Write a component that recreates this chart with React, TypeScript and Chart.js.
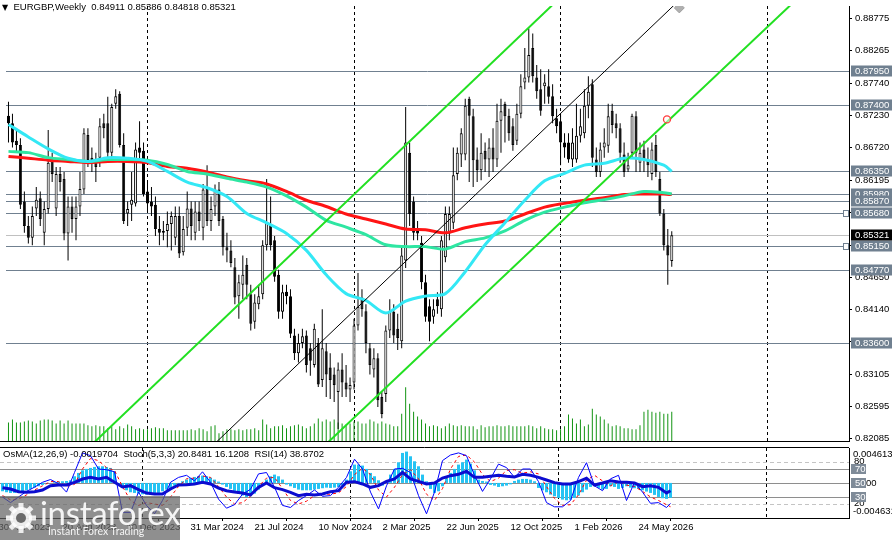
import React, { useEffect, useRef } from "react";
import { Chart, registerables } from "chart.js";

Chart.register(...registerables);

const FONT = '"Liberation Sans", Arial, sans-serif';

// ---------- header texts ----------
const HEADER_SYMBOL = "EURGBP,Weekly";
const HEADER_OHLC = ["0.84911", "0.85386", "0.84818", "0.85321"];
const OSC_HEADER = "OsMA(12,26,9) -0.0019704  Stoch(5,3,3) 20.8481 16.1208  RSI(14) 38.8702";

// ---------- time axis ----------
const FIRST_BAR_DATE = "2023-05-07";
const X_TICK_DATES = [
  "2023-04-30", "2023-08-20", "2023-12-10", "2024-03-31", "2024-07-21", "2024-11-10",
  "2025-03-02", "2025-06-22", "2025-10-12", "2026-02-01", "2026-05-24",
];
const MONTHS = ["Jan", "Feb", "Mar", "Apr", "May", "Jun", "Jul", "Aug", "Sep", "Oct", "Nov", "Dec"];

// ---------- weekly candles ----------
const OPEN = [
  0.8723, 0.8711, 0.8683, 0.8676, 0.8586, 0.8547, 0.8528, 0.8575, 0.8591, 0.8536,
  0.8574, 0.8653, 0.8575, 0.8630, 0.8622, 0.8535, 0.8578, 0.8558, 0.8578, 0.8605,
  0.8692, 0.8656, 0.8652, 0.8656, 0.8711, 0.8711, 0.8664, 0.8742, 0.8758, 0.8676,
  0.8567, 0.8581, 0.8583, 0.8672, 0.8667, 0.8602, 0.8586, 0.8581, 0.8542, 0.8536,
  0.8539, 0.8550, 0.8528, 0.8563, 0.8505, 0.8544, 0.8575, 0.8536, 0.8570, 0.8544,
  0.8606, 0.8555, 0.8578, 0.8605, 0.8558, 0.8513, 0.8508, 0.8481, 0.8435, 0.8453,
  0.8485, 0.8438, 0.8394, 0.8422, 0.8438, 0.8516, 0.8550, 0.8524, 0.8469, 0.8410,
  0.8442, 0.8435, 0.8372, 0.8344, 0.8360, 0.8372, 0.8352, 0.8325, 0.8360, 0.8301,
  0.8347, 0.8321, 0.8310, 0.8282, 0.8318, 0.8297, 0.8286, 0.8297, 0.8388, 0.8433,
  0.8411, 0.8352, 0.8318, 0.8336, 0.8274, 0.8279, 0.8380, 0.8410, 0.8383, 0.8363,
  0.8492, 0.8664, 0.8586, 0.8539, 0.8520, 0.8457, 0.8419, 0.8402, 0.8430, 0.8414,
  0.8497, 0.8535, 0.8552, 0.8630, 0.8661, 0.8661, 0.8750, 0.8722, 0.8653, 0.8636,
  0.8667, 0.8653, 0.8672, 0.8653, 0.8715, 0.8742, 0.8723, 0.8706, 0.8683, 0.8726,
  0.8776, 0.8784, 0.8831, 0.8784, 0.8765, 0.8770, 0.8770, 0.8754, 0.8719, 0.8714,
  0.8680, 0.8680, 0.8653, 0.8653, 0.8691, 0.8695, 0.8739, 0.8773, 0.8653, 0.8633,
  0.8672, 0.8675, 0.8731, 0.8711, 0.8703, 0.8661, 0.8637, 0.8664, 0.8722, 0.8648,
  0.8669, 0.8653, 0.8630, 0.8676, 0.8622, 0.8567, 0.8516, 0.84911,
];
const HIGH = [
  0.8745, 0.8726, 0.8703, 0.8687, 0.8602, 0.8563, 0.8578, 0.8609, 0.8602, 0.8586,
  0.8700, 0.8664, 0.8641, 0.8641, 0.8633, 0.8594, 0.8594, 0.8594, 0.8633, 0.8703,
  0.8703, 0.8672, 0.8664, 0.8719, 0.8726, 0.8753, 0.8742, 0.8765, 0.8762, 0.8695,
  0.8586, 0.8633, 0.8680, 0.8714, 0.8680, 0.8617, 0.8609, 0.8594, 0.8563, 0.8555,
  0.8570, 0.8570, 0.8578, 0.8578, 0.8563, 0.8602, 0.8586, 0.8586, 0.8586, 0.8614,
  0.8644, 0.8594, 0.8613, 0.8617, 0.8563, 0.8536, 0.8524, 0.8496, 0.8469, 0.8500,
  0.8496, 0.8453, 0.8438, 0.8453, 0.8524, 0.8622, 0.8594, 0.8531, 0.8477, 0.8453,
  0.8453, 0.8446, 0.8383, 0.8375, 0.8383, 0.8380, 0.8360, 0.8391, 0.8368, 0.8414,
  0.8360, 0.8344, 0.8321, 0.8329, 0.8344, 0.8325, 0.8305, 0.8399, 0.8472, 0.8446,
  0.8422, 0.8360, 0.8352, 0.8344, 0.8282, 0.8388, 0.8430, 0.8422, 0.8407, 0.8516,
  0.8737, 0.8680, 0.8594, 0.8555, 0.8531, 0.8469, 0.8430, 0.8430, 0.8441, 0.8531,
  0.8578, 0.8578, 0.8672, 0.8672, 0.8703, 0.8750, 0.8753, 0.8734, 0.8672, 0.8695,
  0.8680, 0.8687, 0.8703, 0.8742, 0.8750, 0.8745, 0.8734, 0.8719, 0.8742, 0.8789,
  0.8831, 0.8862, 0.8854, 0.8804, 0.8797, 0.8789, 0.8797, 0.8773, 0.8734, 0.8726,
  0.8695, 0.8695, 0.8703, 0.8742, 0.8734, 0.8765, 0.8786, 0.8781, 0.8672, 0.8680,
  0.8703, 0.8742, 0.8742, 0.8726, 0.8711, 0.8680, 0.8664, 0.8726, 0.8730, 0.8680,
  0.8683, 0.8672, 0.8680, 0.8692, 0.8633, 0.8574, 0.8542, 0.85386,
];
const LOW = [
  0.8680, 0.8672, 0.8664, 0.8574, 0.8536, 0.8519, 0.8516, 0.8563, 0.8547, 0.8516,
  0.8567, 0.8617, 0.8563, 0.8602, 0.8524, 0.8492, 0.8536, 0.8524, 0.8563, 0.8598,
  0.8641, 0.8633, 0.8617, 0.8641, 0.8687, 0.8648, 0.8656, 0.8734, 0.8672, 0.8550,
  0.8547, 0.8555, 0.8578, 0.8648, 0.8594, 0.8570, 0.8563, 0.8531, 0.8516, 0.8524,
  0.8513, 0.8508, 0.8516, 0.8496, 0.8500, 0.8531, 0.8524, 0.8524, 0.8539, 0.8524,
  0.8547, 0.8539, 0.8563, 0.8547, 0.8500, 0.8489, 0.8481, 0.8422, 0.8399, 0.8430,
  0.8430, 0.8380, 0.8383, 0.8414, 0.8430, 0.8508, 0.8508, 0.8458, 0.8399, 0.8399,
  0.8422, 0.8368, 0.8333, 0.8329, 0.8352, 0.8313, 0.8308, 0.8321, 0.8290, 0.8290,
  0.8274, 0.8271, 0.8266, 0.8223, 0.8274, 0.8274, 0.8266, 0.8286, 0.8380, 0.8402,
  0.8344, 0.8310, 0.8305, 0.8258, 0.8240, 0.8266, 0.8368, 0.8360, 0.8349, 0.8352,
  0.8480, 0.8547, 0.8524, 0.8524, 0.8446, 0.8394, 0.8363, 0.8391, 0.8407, 0.8402,
  0.8489, 0.8524, 0.8542, 0.8620, 0.8641, 0.8652, 0.8617, 0.8609, 0.8617, 0.8620,
  0.8633, 0.8625, 0.8633, 0.8641, 0.8664, 0.8680, 0.8683, 0.8667, 0.8676, 0.8719,
  0.8765, 0.8776, 0.8776, 0.8750, 0.8723, 0.8742, 0.8742, 0.8711, 0.8695, 0.8644,
  0.8656, 0.8648, 0.8641, 0.8648, 0.8680, 0.8687, 0.8719, 0.8641, 0.8625, 0.8625,
  0.8656, 0.8664, 0.8695, 0.8687, 0.8648, 0.8625, 0.8633, 0.8656, 0.8633, 0.8633,
  0.8633, 0.8625, 0.8620, 0.8625, 0.8563, 0.8508, 0.8453, 0.84818,
];
const CLOSE = [
  0.8711, 0.8680, 0.8676, 0.8581, 0.8547, 0.8528, 0.8563, 0.8589, 0.8558, 0.8574,
  0.8648, 0.8630, 0.8630, 0.8617, 0.8535, 0.8578, 0.8558, 0.8578, 0.8606, 0.8695,
  0.8652, 0.8648, 0.8641, 0.8706, 0.8703, 0.8664, 0.8737, 0.8754, 0.8676, 0.8555,
  0.8574, 0.8589, 0.8669, 0.8664, 0.8598, 0.8583, 0.8578, 0.8542, 0.8536, 0.8539,
  0.8550, 0.8563, 0.8563, 0.8503, 0.8542, 0.8575, 0.8547, 0.8570, 0.8555, 0.8605,
  0.8555, 0.8574, 0.8605, 0.8555, 0.8513, 0.8508, 0.8488, 0.8433, 0.8457, 0.8469,
  0.8453, 0.8391, 0.8425, 0.8435, 0.8516, 0.8552, 0.8516, 0.8466, 0.8410, 0.8441,
  0.8435, 0.8375, 0.8344, 0.8360, 0.8371, 0.8325, 0.8332, 0.8383, 0.8294, 0.8352,
  0.8310, 0.8301, 0.8293, 0.8318, 0.8297, 0.8286, 0.8293, 0.8388, 0.8418, 0.8414,
  0.8360, 0.8325, 0.8336, 0.8269, 0.8247, 0.8380, 0.8410, 0.8372, 0.8368, 0.8500,
  0.8680, 0.8566, 0.8536, 0.8535, 0.8457, 0.8402, 0.8394, 0.8414, 0.8419, 0.8524,
  0.8566, 0.8566, 0.8628, 0.8664, 0.8695, 0.8739, 0.8723, 0.8652, 0.8636, 0.8664,
  0.8653, 0.8672, 0.8653, 0.8715, 0.8730, 0.8722, 0.8695, 0.8676, 0.8726, 0.8770,
  0.8784, 0.8820, 0.8786, 0.8762, 0.8731, 0.8776, 0.8753, 0.8722, 0.8706, 0.8680,
  0.8672, 0.8653, 0.8680, 0.8691, 0.8706, 0.8739, 0.8761, 0.8656, 0.8633, 0.8669,
  0.8680, 0.8722, 0.8708, 0.8703, 0.8664, 0.8633, 0.8644, 0.8723, 0.8664, 0.8664,
  0.8653, 0.8644, 0.8669, 0.8633, 0.8567, 0.8516, 0.8500, 0.85321,
];
// tick volume
const VOLUME = [
  19000, 22000, 19000, 19000, 20000, 21000, 20000, 18000, 21000, 22000, 22000, 21000, 18000,
  21000, 18000, 21000, 18000, 18000, 18000, 18000, 16000, 15000,
  16000, 15000, 15000, 13000, 15000, 12000, 15000, 13000, 17000, 15000, 12000, 13000, 12000, 12000,
  13000, 14000, 13000, 13000, 11000, 11000, 11000, 11000, 11000, 11000, 12000, 11000, 13000, 12000, 10000, 15000,
  16000, 8000, 10000, 12000, 12000, 11000, 12000, 11000, 12000, 12000, 13000, 11000, 22000,
  17000, 13000, 15000, 15000, 16000, 13000, 15000, 16000, 17000, 15000, 13000, 15000, 18000,
  23000, 20000, 22000, 20000, 22000, 19000, 18000, 17000, 18000,
  20000, 20000, 18000, 18000, 22000, 20000, 18000, 20000, 18000, 17000, 15000, 15000, 28000,
  55000, 38000, 30000, 25000, 22000,
  18000, 15000, 16000, 15000, 13000, 15000, 18000, 16000, 15000, 16000, 15000, 15000, 15000, 12000, 16000, 14000,
  15000, 15000, 16000, 15000, 15000, 16000, 15000, 15000, 15000, 15000, 16000, 15000, 13000, 15000, 13000, 12000, 12000, 11000, 12000, 15000,
  27000, 23000, 18000, 22000, 15000, 17000, 33000, 27000, 25000, 22000, 18000, 15000, 16000, 15000, 13000,
  13000, 12000, 12000, 16000, 30000, 32000, 30000, 29000, 30000, 28000, 28000, 30000,
];

// ---------- moving averages (one reading every 5 bars, last = final bar) ----------
const MA_STEP = 5;
const MA_FAST = [
  0.8709, 0.8689, 0.8670, 0.8655, 0.8650, 0.8656, 0.8655, 0.8650, 0.8634, 0.8617, 0.8608, 0.8594,
  0.8567, 0.8552, 0.8535, 0.8508, 0.8469, 0.8439, 0.8428, 0.8408, 0.8427, 0.8435, 0.8439, 0.8474,
  0.8517, 0.8552, 0.8588, 0.8619, 0.8631, 0.8644, 0.8647, 0.8655, 0.8653, 0.8644, 0.8634,
];
const MA_MID = [
  0.8666, 0.8664, 0.8656, 0.8653, 0.8650, 0.8653, 0.8653, 0.8652, 0.8645, 0.8634, 0.8630, 0.8623,
  0.8617, 0.8609, 0.8595, 0.8577, 0.8556, 0.8545, 0.8533, 0.8517, 0.8514, 0.8514, 0.8510, 0.8522,
  0.8528, 0.8539, 0.8556, 0.8569, 0.8577, 0.8584, 0.8589, 0.8595, 0.8602, 0.8600, 0.8598,
];
const MA_SLOW = [
  0.8658, 0.8655, 0.8652, 0.8650, 0.8648, 0.8650, 0.8650, 0.8648, 0.8642, 0.8639, 0.8633, 0.8625,
  0.8619, 0.8614, 0.8602, 0.8588, 0.8578, 0.8566, 0.8558, 0.8550, 0.8542, 0.8541, 0.8536, 0.8544,
  0.8550, 0.8555, 0.8566, 0.8577, 0.8583, 0.8588, 0.8592, 0.8597, 0.8598, 0.8598, 0.8597,
];

// ---------- channel (bar index, price) anchors ----------
const CHANNEL_UPPER_IDX = [20, 140];
const CHANNEL_UPPER_PRICE = [0.8192, 0.8918];
const CHANNEL_LOWER_IDX = [78, 200];
const CHANNEL_LOWER_PRICE = [0.8187, 0.8918];
const CHANNEL_MID_IDX = [52, 170];
const CHANNEL_MID_PRICE = [0.8200, 0.8914];
const MARK_CIRCLE = { idx: 165.8, price: 0.8717 };
const MARK_DIAMOND = { idx: 168.9, price: 0.8895 };

// ---------- horizontal levels and price scale ----------
const LEVELS = [0.8795, 0.874, 0.8635, 0.8598, 0.8587, 0.8568, 0.8515, 0.8477, 0.836];
const LEVELS_WITH_HANDLE = [0.8568, 0.8515];
const CURRENT_PRICE = 0.85321;
const PRICE_TICKS = [
  0.88775, 0.88265, 0.8774, 0.8723, 0.8672, 0.86195, 0.8568, 0.8516, 0.8465, 0.8414, 0.83625,
  0.83105, 0.82595, 0.82085,
];
const PRICE_MIN = 0.82038;
const PRICE_MAX = 0.8898;

// ---------- oscillators ----------
const OSMA = [
  -0.0011, -0.00123, -0.00132, -0.00132, -0.00123, -0.0011, -0.00097, -0.00079, -0.00062, -0.00044, -0.00026,
  -0.00013, 0, 0.00009, 0.00018, 0.00022, 0.00026, 0.00035,
  0.00088, 0.00132, 0.00167, 0.00185, 0.00198, 0.00211, 0.0022, 0.0022, 0.00211, 0.00198, 0.00154,
  -0.00022, -0.00066, -0.00097, -0.00123, -0.00132, -0.00141, -0.0015, -0.00154, -0.00154, -0.00145, -0.00132, -0.0011, -0.00088,
  -0.00066, -0.00035, -0.00009,
  0.00022, 0.00044, 0.00062, 0.00079, 0.00088, 0.00097, 0.00088, 0.0007, 0.00044, 0.00018,
  -0.00022, -0.00053, -0.00079, -0.0011, -0.00141, -0.00167, -0.00185, -0.00176, -0.00141, -0.00088,
  -0.00022, 0.00044, 0.00088, 0.0011, 0.00088, 0.00044,
  -0.00022, -0.00044, -0.00066, -0.00088, -0.00097, -0.00097, -0.00097, -0.00088, -0.00079, -0.0007, -0.00062, -0.00066, -0.00062, -0.00053,
  -0.00035, 0.00044, 0.00154, 0.00242, 0.00242, 0.00229, 0.00185, 0.00132, 0.00088,
  0.00035, -0.00035, 0.00022,
  0.0011, 0.00185, 0.00273, 0.00396, 0.00414, 0.00352, 0.00286, 0.0022, 0.0011, 0.00022, -0.00079,
  -0.00132, -0.0011, -0.00044,
  0.00079, 0.00132, 0.00185, 0.00242, 0.00273, 0.00308, 0.00255, 0.00167, 0.00044, 0.00026,
  0.00018, -0.00026, -0.00035, -0.00053, -0.00044, -0.00035, -0.00018, 0.00026, 0.00044, 0.00053,
  0.00053, 0.00044, 0.00022,
  -0.00066, -0.00097, -0.00123, -0.00154, -0.00176, -0.00198, -0.0022, -0.00229, -0.0022, -0.00198, -0.00167, -0.00123,
  -0.00088, -0.00053, -0.00035, -0.00066, -0.00088, -0.00079, -0.00044, -0.00053, -0.00079, -0.00066,
  -0.00044, -0.00062, -0.0007, -0.00079, -0.00097, -0.00114, -0.00132, -0.00158, -0.00185, -0.00202, -0.00211, -0.0019704,
];
// one reading every 2 bars, last = final bar
const OSC_STEP = 2;
const STOCH_MAIN = [
  30, 22, 30, 38, 44, 51, 55, 49, 37, 65, 93, 89, 70, 69, 66, 8, 8, 37, 18, 6, 25, 51, 58, 61, 53, 66, 51,
  27, 14, 19, 34, 41, 63, 65, 44, 18, 15, 25, 32, 40, 31, 32, 44, 58, 84, 70, 37, 13, 46, 70, 71, 65, 32,
  6, 37, 82, 90, 93, 89, 61, 38, 56, 77, 72, 58, 70, 70, 52, 22, 16, 16, 25, 58, 79, 46, 39, 56, 61, 25,
  51, 37, 21, 22, 15, 20.8481,
];
const STOCH_SIGNAL = [
  32, 26, 27, 33, 40, 46, 52, 52, 45, 48, 70, 85, 82, 72, 68, 45, 25, 18, 22, 20, 18, 30, 45, 56, 57, 60,
  58, 45, 30, 20, 22, 31, 45, 57, 58, 42, 25, 20, 24, 32, 34, 34, 36, 45, 62, 71, 62, 40, 30, 44, 62, 69,
  56, 34, 25, 42, 70, 88, 90, 80, 62, 52, 57, 68, 69, 64, 66, 63, 45, 28, 18, 19, 33, 54, 61, 53, 46, 52,
  47, 45, 38, 30, 25, 19, 16.1208,
];
const RSI = [
  43.3, 41.4, 37.6, 36.7, 37.6, 40, 46.2, 47.1, 47.1, 51, 55.7, 58.1, 55.7, 58.1, 51, 44.3, 46.2, 40.5,
  35.7, 34.3, 34.3, 41.4, 47.1, 47.6, 48.6, 51, 48.6, 42.8, 39, 37.1, 35.7, 32.9, 43.8, 50, 43.3, 40.5,
  36.7, 31.9, 33.8, 32.9, 34.3, 37.6, 39, 51, 51.9, 48.6, 43.8, 46.2, 52.4, 55.7, 65.2, 55.7, 52.4, 48.6,
  50, 57.1, 60.5, 62.4, 66.7, 58.1, 58.1, 59.5, 61, 59.5, 58.6, 62.4, 61, 58.1, 54.3, 50.5, 48.6, 48.6,
  51.9, 56.7, 47.1, 50, 53.3, 51.4, 51, 50, 44.8, 46.2, 43.8, 35.7, 38.8702,
];
const OSMA_MAX = 0.004613;
const OSMA_MIN = -0.004631;
const OSC_DASHED_LEVELS = [80, 20];
const OSC_SOLID_LEVELS = [70, 50, 30];

// ---------- styling ----------
const X_MIN = -0.625;
const X_MAX = 211.625;
const LEVEL_COLOR = "#708090";
const AXIS_W = 43;
const LAST = CLOSE.length - 1;
const WEEK = 7 * 86400000;
const T0 = Date.parse(FIRST_BAR_DATE + "T00:00:00Z");
const barDate = (i: number) => new Date(T0 + i * WEEK);
const X_TICK_IDX = X_TICK_DATES.map((d) => Math.round((Date.parse(d + "T00:00:00Z") - T0) / WEEK));
const X_TICK_LABELS = X_TICK_DATES.map((d) => {
  const t = new Date(d + "T00:00:00Z");
  return `${t.getUTCDate()} ${MONTHS[t.getUTCMonth()]} ${t.getUTCFullYear()}`;
});
const YEAR_SEPS: number[] = [];
for (let i = 1; i <= Math.floor(X_MAX); i++) {
  if (barDate(i).getUTCFullYear() !== barDate(i - 1).getUTCFullYear()) YEAR_SEPS.push(i);
}

function hLine(ctx: any, x1: number, x2: number, y: number) {
  ctx.beginPath();
  ctx.moveTo(x1, y);
  ctx.lineTo(x2, y);
  ctx.stroke();
}
function vLine(ctx: any, x: number, y1: number, y2: number) {
  ctx.beginPath();
  ctx.moveTo(x, y1);
  ctx.lineTo(x, y2);
  ctx.stroke();
}
function box(ctx: any, x: number, y: number, w: number, h: number, bg: string, text: string, fg: string) {
  ctx.fillStyle = bg;
  ctx.fillRect(x, y - h / 2, w, h);
  ctx.fillStyle = fg;
  ctx.textAlign = "left";
  ctx.textBaseline = "middle";
  ctx.fillText(text, x + 4, y + 0.5);
}

const mainDecor = {
  id: "mainDecor",
  beforeDatasetsDraw(chart: any) {
    const { ctx, chartArea: a, scales } = chart;
    ctx.save();
    ctx.lineWidth = 1;
    ctx.strokeStyle = "#000";
    ctx.setLineDash([3, 3]);
    YEAR_SEPS.forEach((i) => {
      const x = Math.round(scales.x.getPixelForValue(i) - 0.5) + 0.5;
      vLine(ctx, x, a.top, a.bottom);
    });
    ctx.setLineDash([]);
    ctx.strokeStyle = LEVEL_COLOR;
    LEVELS.forEach((p) => hLine(ctx, a.left, a.right, Math.round(scales.y.getPixelForValue(p)) + 0.5));
    ctx.strokeStyle = "#c0c0c0";
    hLine(ctx, a.left, a.right, Math.round(scales.y.getPixelForValue(CURRENT_PRICE)) + 0.5);
    ctx.restore();
  },
  afterDraw(chart: any) {
    const { ctx, chartArea: a, scales } = chart;
    ctx.save();
    ctx.lineWidth = 1;
    ctx.strokeStyle = "#000";
    hLine(ctx, 0, a.right, a.bottom + 0.5);
    ctx.font = `9.5px ${FONT}`;
    [...LEVELS].sort((p, q) => q - p).forEach((p) => {
      box(ctx, a.right + 2, Math.round(scales.y.getPixelForValue(p)), 41, 11, LEVEL_COLOR, p.toFixed(5), "#ffffff");
    });
    box(ctx, a.right + 2, Math.round(scales.y.getPixelForValue(CURRENT_PRICE)), 41, 11, "#000000", CURRENT_PRICE.toFixed(5), "#ffffff");
    LEVELS_WITH_HANDLE.forEach((p) => {
      const y = Math.round(scales.y.getPixelForValue(p));
      ctx.fillStyle = "#ffffff";
      ctx.strokeStyle = LEVEL_COLOR;
      ctx.fillRect(a.right - 5, y - 2, 4, 5);
      ctx.strokeRect(a.right - 5.5, y - 2.5, 5, 6);
    });
    ctx.restore();
  },
};

const oscDecor = {
  id: "oscDecor",
  beforeDatasetsDraw(chart: any) {
    const { ctx, chartArea: a, scales } = chart;
    ctx.save();
    ctx.lineWidth = 1;
    ctx.strokeStyle = "#000";
    ctx.setLineDash([3, 3]);
    YEAR_SEPS.forEach((i) => {
      const x = Math.round(scales.x.getPixelForValue(i) - 0.5) + 0.5;
      vLine(ctx, x, a.top, a.bottom);
    });
    ctx.strokeStyle = "#c4c4c4";
    ctx.setLineDash([4, 3]);
    OSC_DASHED_LEVELS.forEach((v) => hLine(ctx, a.left, a.right, Math.round(scales.yOsc.getPixelForValue(v)) + 0.5));
    ctx.setLineDash([]);
    ctx.strokeStyle = "#8e8e8e";
    OSC_SOLID_LEVELS.forEach((v) => hLine(ctx, a.left, a.right, Math.round(scales.yOsc.getPixelForValue(v)) + 0.5));
    ctx.restore();
  },
  afterDraw(chart: any) {
    const { ctx, chartArea: a, scales } = chart;
    ctx.save();
    ctx.lineWidth = 1;
    ctx.strokeStyle = "#000";
    hLine(ctx, 0, a.right, a.top - 0.5);
    ctx.font = `9.5px ${FONT}`;
    ctx.textAlign = "left";
    ctx.textBaseline = "middle";
    ctx.fillStyle = "#000";
    ctx.fillText(OSMA_MAX.toFixed(6), a.right + 4, a.top + 6);
    ctx.fillText(OSMA_MIN.toFixed(6), a.right + 4, a.bottom - 6.5);
    OSC_DASHED_LEVELS.forEach((v) => {
      ctx.fillStyle = "#000";
      ctx.fillText(String(v), a.right + 5, Math.round(scales.yOsc.getPixelForValue(v)) - 1);
    });
    OSC_SOLID_LEVELS.forEach((v) => {
      const y = Math.round(scales.yOsc.getPixelForValue(v));
      box(ctx, a.right + 2, y, 15, 10, "#7f8b98", String(v), "#ffffff");
      if (v === 50) {
        ctx.fillStyle = "#000";
        ctx.fillText("00", a.right + 17, y + 0.5);
      }
    });
    ctx.restore();
  },
};

function mainConfig(): any {
  const bodyColors = CLOSE.map((c, i) => (c >= OPEN[i] ? "#ffffff" : "#000000"));
  const maData = (arr: number[]) => arr.map((v, k) => ({ x: Math.min(k * MA_STEP, LAST), y: v }));
  const seg = (xs: number[], ps: number[]) => xs.map((x, k) => ({ x, y: ps[k] }));
  return {
    type: "bar",
    data: {
      datasets: [
        {
          type: "scatter",
          data: [{ x: MARK_CIRCLE.idx, y: MARK_CIRCLE.price }],
          pointStyle: "circle",
          pointRadius: 3.5,
          borderColor: "#ff3b3b",
          backgroundColor: "rgba(255,255,255,0.5)",
          borderWidth: 1.3,
          order: 0,
        },
        {
          type: "scatter",
          data: [{ x: MARK_DIAMOND.idx, y: MARK_DIAMOND.price }],
          pointStyle: "rectRot",
          pointRadius: 5,
          backgroundColor: "#b0b0b0",
          borderColor: "#a0a0a0",
          order: 0,
        },
        { type: "line", data: seg(CHANNEL_UPPER_IDX, CHANNEL_UPPER_PRICE), borderColor: "#22e022", borderWidth: 2, pointRadius: 0, clip: 0, order: 1 },
        { type: "line", data: seg(CHANNEL_LOWER_IDX, CHANNEL_LOWER_PRICE), borderColor: "#22e022", borderWidth: 2, pointRadius: 0, clip: 0, order: 1 },
        { type: "line", data: seg(CHANNEL_MID_IDX, CHANNEL_MID_PRICE), borderColor: "#000000", borderWidth: 1, pointRadius: 0, clip: 0, order: 1 },
        { type: "line", data: maData(MA_FAST), borderColor: "#33e8f5", borderWidth: 3, pointRadius: 0, tension: 0.3, clip: 0, order: 2 },
        { type: "line", data: maData(MA_MID), borderColor: "#2ee6a2", borderWidth: 3, pointRadius: 0, tension: 0.3, clip: 0, order: 3 },
        { type: "line", data: maData(MA_SLOW), borderColor: "#ff1414", borderWidth: 3, pointRadius: 0, tension: 0.3, clip: 0, order: 4 },
        {
          type: "bar",
          data: CLOSE.map((c, i) => ({ x: i, y: [OPEN[i], c] })),
          backgroundColor: bodyColors,
          borderColor: "#000000",
          borderWidth: 1,
          borderSkipped: false,
          barThickness: 3,
          maxBarThickness: 3,
          grouped: false,
          inflateAmount: 0,
          order: 5,
        },
        {
          type: "bar",
          data: CLOSE.map((c, i) => ({ x: i, y: [LOW[i], HIGH[i]] })),
          backgroundColor: "#000000",
          barThickness: 1,
          maxBarThickness: 1,
          grouped: false,
          inflateAmount: 0,
          order: 6,
        },
        {
          type: "bar",
          yAxisID: "yVol",
          data: VOLUME.map((v, i) => ({ x: i, y: v })),
          backgroundColor: "#129412",
          barThickness: 1,
          maxBarThickness: 1,
          grouped: false,
          inflateAmount: 0,
          order: 7,
        },
      ],
    },
    options: {
      responsive: false,
      animation: false,
      events: [],
      layout: { padding: { top: 0, left: 0, right: 0, bottom: 2 } },
      plugins: { legend: { display: false }, tooltip: { enabled: false } },
      scales: {
        x: { type: "linear", min: X_MIN, max: X_MAX, offset: false, display: false },
        y: {
          position: "right",
          min: PRICE_MIN,
          max: PRICE_MAX,
          afterBuildTicks: (s: any) => {
            s.ticks = PRICE_TICKS.map((v) => ({ value: v }));
          },
          afterFit: (s: any) => {
            s.width = AXIS_W;
            s.paddingTop = 0;
            s.paddingBottom = 0;
          },
          ticks: {
            autoSkip: false,
            color: "#000",
            padding: 3,
            font: { family: FONT, size: 9.5 },
            callback: (v: any) => Number(v).toFixed(5),
          },
          grid: { drawOnChartArea: false, drawTicks: true, tickLength: 3, color: "#000" },
          border: { display: true, color: "#000", width: 1 },
        },
        yVol: { display: false, min: 0, max: 445000 },
      },
    },
    plugins: [mainDecor],
  };
}

function oscConfig(): any {
  const oscData = (arr: number[]) => arr.map((v, k) => ({ x: Math.min(k * OSC_STEP, LAST), y: v }));
  return {
    type: "bar",
    data: {
      datasets: [
        { type: "line", yAxisID: "yOsc", data: oscData(RSI), borderColor: "#0c0cd0", borderWidth: 3, pointRadius: 0, order: 0 },
        { type: "line", yAxisID: "yOsc", data: oscData(STOCH_MAIN), borderColor: "#0000ff", borderWidth: 1, pointRadius: 0, order: 1 },
        {
          type: "line",
          yAxisID: "yOsc",
          data: oscData(STOCH_SIGNAL),
          borderColor: "#ff0000",
          borderWidth: 1,
          borderDash: [3, 3],
          pointRadius: 0,
          order: 2,
        },
        {
          type: "bar",
          yAxisID: "yOsma",
          data: OSMA.map((v, i) => ({ x: i, y: v })),
          backgroundColor: "#25c3f3",
          barThickness: 3,
          maxBarThickness: 3,
          grouped: false,
          inflateAmount: 0,
          order: 3,
        },
      ],
    },
    options: {
      responsive: false,
      animation: false,
      events: [],
      layout: { padding: { top: 2, left: 0, right: 0, bottom: 0 } },
      plugins: { legend: { display: false }, tooltip: { enabled: false } },
      scales: {
        x: {
          type: "linear",
          min: X_MIN,
          max: X_MAX,
          offset: false,
          position: "bottom",
          afterBuildTicks: (s: any) => {
            s.ticks = X_TICK_IDX.map((v) => ({ value: v }));
          },
          afterFit: (s: any) => {
            s.height = 22;
            s.paddingLeft = 0;
            s.paddingRight = 0;
          },
          ticks: {
            autoSkip: false,
            maxRotation: 0,
            minRotation: 0,
            align: "start",
            padding: 1,
            color: "#000",
            font: { family: FONT, size: 9.5 },
            callback: (_v: any, i: number) => X_TICK_LABELS[i],
          },
          grid: { drawOnChartArea: false, drawTicks: true, tickLength: 3, color: "#000" },
          border: { display: true, color: "#000", width: 1 },
        },
        yOsc: {
          position: "right",
          min: 0,
          max: 100,
          afterFit: (s: any) => {
            s.width = AXIS_W;
            s.paddingTop = 0;
            s.paddingBottom = 0;
          },
          ticks: { display: false },
          grid: { display: false },
          border: { display: true, color: "#000", width: 1 },
        },
        yOsma: { display: false, min: OSMA_MIN, max: OSMA_MAX },
      },
    },
    plugins: [oscDecor],
  };
}

function Gear() {
  const teeth = [0, 45, 90, 135, 180, 225, 270, 315];
  return (
    <svg width="34" height="34" viewBox="0 0 34 34" style={{ position: "absolute", left: 4, top: 5 }}>
      <g fill="rgba(255,255,255,0.85)">
        {teeth.map((a) => (
          <rect key={a} x="14.5" y="2" width="5" height="7" transform={`rotate(${a} 17 17)`} />
        ))}
        <circle cx="17" cy="17" r="11" />
      </g>
      <circle cx="17" cy="17" r="5" fill="#6a6a6a" />
    </svg>
  );
}

export default function App() {
  const mainRef = useRef<HTMLCanvasElement>(null);
  const oscRef = useRef<HTMLCanvasElement>(null);

  useEffect(() => {
    document.body.style.margin = "0";
    const main = new Chart(mainRef.current as HTMLCanvasElement, mainConfig());
    const osc = new Chart(oscRef.current as HTMLCanvasElement, oscConfig());
    return () => {
      main.destroy();
      osc.destroy();
    };
  }, []);

  return (
    <div style={{ position: "relative", width: 892, height: 540, background: "#fff", overflow: "hidden" }}>
      <canvas ref={mainRef} width={892} height={447} style={{ position: "absolute", left: 0, top: 0, display: "block" }} />
      <canvas ref={oscRef} width={892} height={94} style={{ position: "absolute", left: 0, top: 446, display: "block" }} />
      <div
        style={{
          position: "absolute",
          left: 2,
          top: 1,
          font: `9.5px ${FONT}`,
          lineHeight: "12px",
          color: "#000",
          whiteSpace: "pre",
        }}
      >
        <span style={{ fontSize: 8, fontFamily: "DejaVu Sans" }}>▼</span>
        {"  " + HEADER_SYMBOL + "  " + HEADER_OHLC.join(" ")}
      </div>
      <div
        style={{
          position: "absolute",
          left: 3,
          top: 448,
          font: `9.5px ${FONT}`,
          lineHeight: "12px",
          color: "#000",
          whiteSpace: "pre",
        }}
      >
        {OSC_HEADER}
      </div>
      <div
        style={{
          position: "absolute",
          left: 0,
          top: 496,
          width: 180,
          height: 44,
          background: "rgba(100,100,100,0.72)",
        }}
      >
        <Gear />
        <div
          style={{
            position: "absolute",
            left: 40,
            top: -4,
            fontFamily: "Lato, 'Open Sans', sans-serif",
            fontSize: 33,
            color: "rgba(255,255,255,0.92)",
            letterSpacing: -0.3,
          }}
        >
          instaforex
        </div>
        <div
          style={{
            position: "absolute",
            left: 48,
            top: 29,
            fontFamily: "Lato, 'Open Sans', sans-serif",
            fontSize: 10.5,
            color: "rgba(255,255,255,0.9)",
          }}
        >
          Instant Forex Trading
        </div>
      </div>
    </div>
  );
}
